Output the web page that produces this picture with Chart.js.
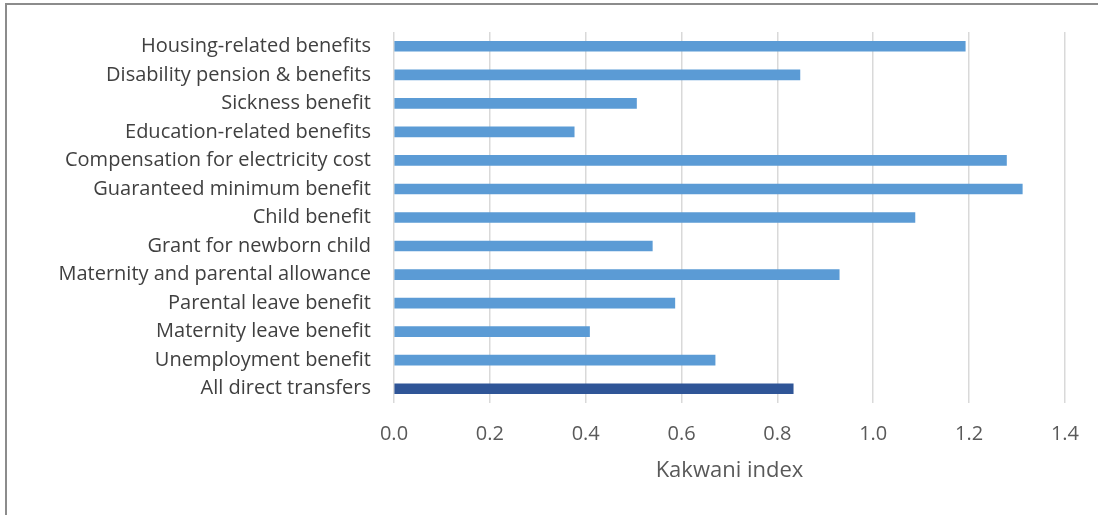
<!DOCTYPE html>
<html>
<head>
<meta charset="utf-8">
<script src="https://cdn.jsdelivr.net/npm/chart.js@4"></script>
<style>
    html, body { margin: 0; padding: 0; background: #fff; }
    #frame {
        position: absolute; left: 5px; top: 3px; width: 1200px; height: 600px;
        border-left: 2px solid #8c8c8c; border-top: 2px solid #8c8c8c;
    }
    #wrap { position: absolute; left: 0; top: 0; width: 1098px; height: 515px; }
</style>
</head>
<body>
<div id="frame"></div>
<div id="wrap"><canvas id="kakwaniChart"></canvas></div>
<script>
// Categories, top to bottom as shown
const categories = [
    'Housing-related benefits',
    'Disability pension & benefits',
    'Sickness benefit',
    'Education-related benefits',
    'Compensation for electricity cost',
    'Guaranteed minimum benefit',
    'Child benefit',
    'Grant for newborn child',
    'Maternity and parental allowance',
    'Parental leave benefit',
    'Maternity leave benefit',
    'Unemployment benefit',
    'All direct transfers'
];

// Kakwani index per category
const kakwaniValues = [1.192, 0.847, 0.506, 0.376, 1.278, 1.311, 1.087, 0.539, 0.929, 0.586, 0.408, 0.670, 0.833];

// x axis ticks
const xTicks = [0.0, 0.2, 0.4, 0.6, 0.8, 1.0, 1.2, 1.4];

const lightBlue = '#5B9BD5';
const darkBlue = '#2F5597';
const barColors = categories.map(c => c === 'All direct transfers' ? darkBlue : lightBlue);

const ctx = document.getElementById('kakwaniChart').getContext('2d');

const kakwaniChart = new Chart(ctx, {
    type: 'bar',
    data: {
        labels: categories,
        datasets: [{
            label: 'Kakwani index',
            data: kakwaniValues,
            backgroundColor: barColors,
            borderWidth: 0,
            barThickness: 10
        }]
    },
    options: {
        indexAxis: 'y',
        responsive: true,
        maintainAspectRatio: false,
        animation: false,
        layout: {
            padding: { top: 32, right: 32, bottom: 0, left: 0 }
        },
        plugins: {
            legend: { display: false },
            tooltip: { enabled: false }
        },
        scales: {
            x: {
                min: 0,
                max: 1.4,
                afterBuildTicks: axis => {
                    axis.ticks = xTicks.map(v => ({ value: v }));
                },
                afterFit: axis => { axis.height = 112; },
                grid: {
                    color: '#d9d9d9',
                    lineWidth: 1.5,
                    drawTicks: false
                },
                border: { display: false },
                ticks: {
                    padding: 19,
                    color: '#595959',
                    font: { family: 'Open Sans', size: 20 },
                    callback: value => Number(value).toFixed(1)
                },
                title: {
                    display: true,
                    text: 'Kakwani index',
                    color: '#595959',
                    font: { family: 'Open Sans', size: 22 },
                    padding: { top: 0, bottom: 31 }
                }
            },
            y: {
                afterFit: axis => {
                    axis.width = 394;
                    // keep the label padding from pushing the plot area down
                    axis.paddingTop = 0;
                    axis.paddingBottom = 0;
                },
                grid: { display: false, drawTicks: false },
                border: { display: false },
                ticks: {
                    padding: 23,
                    color: '#404040',
                    font: { family: 'Open Sans', size: 20 }
                }
            }
        }
    }
});
</script>
</body>
</html>
